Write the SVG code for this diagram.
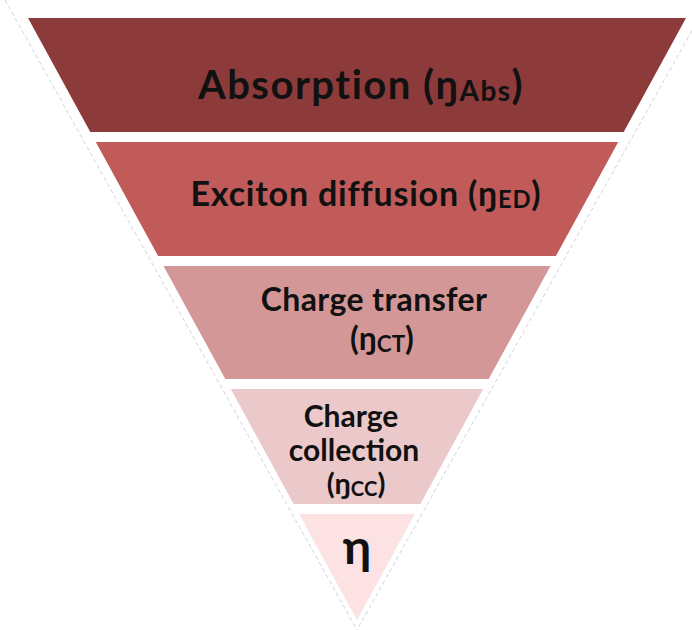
<svg xmlns="http://www.w3.org/2000/svg" width="692" height="630" viewBox="0 0 692 630">
<style>
.t{font-family:"Lato","Open Sans","Liberation Sans",sans-serif;font-weight:bold;fill:#111;text-anchor:middle}
.sub{font-size:70%}
.guide{stroke:#cfd3dc;stroke-width:1;stroke-dasharray:4 3;fill:none}
</style>
<rect width="692" height="630" fill="#ffffff"/>
<g id="guides">
<line class="guide" x1="5" y1="0" x2="357" y2="630"/>
<line class="guide" x1="709" y1="0" x2="357" y2="630"/>
</g>
<g id="band-absorption">
<polygon points="28,18 686,18 623.7,132 90.3,132" fill="#8d3a3a"/>
<text class="t" x="361" y="99" font-size="40" letter-spacing="1.5">Absorption (ŋ<tspan class="sub" dy="2">Abs</tspan><tspan dy="-2">)</tspan></text>
</g>
<g id="band-exciton">
<polygon points="95.8,142 618.2,142 555.9,256 158.1,256" fill="#c05b59"/>
<text class="t" x="366" y="206" font-size="34" letter-spacing="0.8">Exciton diffusion (ŋ<tspan class="sub" dy="2">ED</tspan><tspan dy="-2">)</tspan></text>
</g>
<g id="band-transfer">
<polygon points="163.5,266 550.5,266 488.7,379 225.3,379" fill="#d49798"/>
<text class="t" x="374" y="311" font-size="32" letter-spacing="0.4">Charge transfer</text>
<text class="t" x="382" y="350" font-size="32">(ŋ<tspan class="sub" dy="2">CT</tspan><tspan dy="-2">)</tspan></text>
</g>
<g id="band-collection">
<polygon points="230.8,389 483.2,389 420.4,504 293.6,504" fill="#ebc9ca"/>
<text class="t" x="351" y="427" font-size="30">Charge</text>
<text class="t" x="354" y="461" font-size="30">collection</text>
<text class="t" x="356" y="494" font-size="29">(ŋ<tspan class="sub" dy="2">CC</tspan><tspan dy="-2">)</tspan></text>
</g>
<g id="band-total">
<polygon points="299.1,514 414.9,514 357,620" fill="#fce2e2"/>
<text class="t" x="357" y="564" font-size="48" fill="#222">η</text>
</g>
</svg>
